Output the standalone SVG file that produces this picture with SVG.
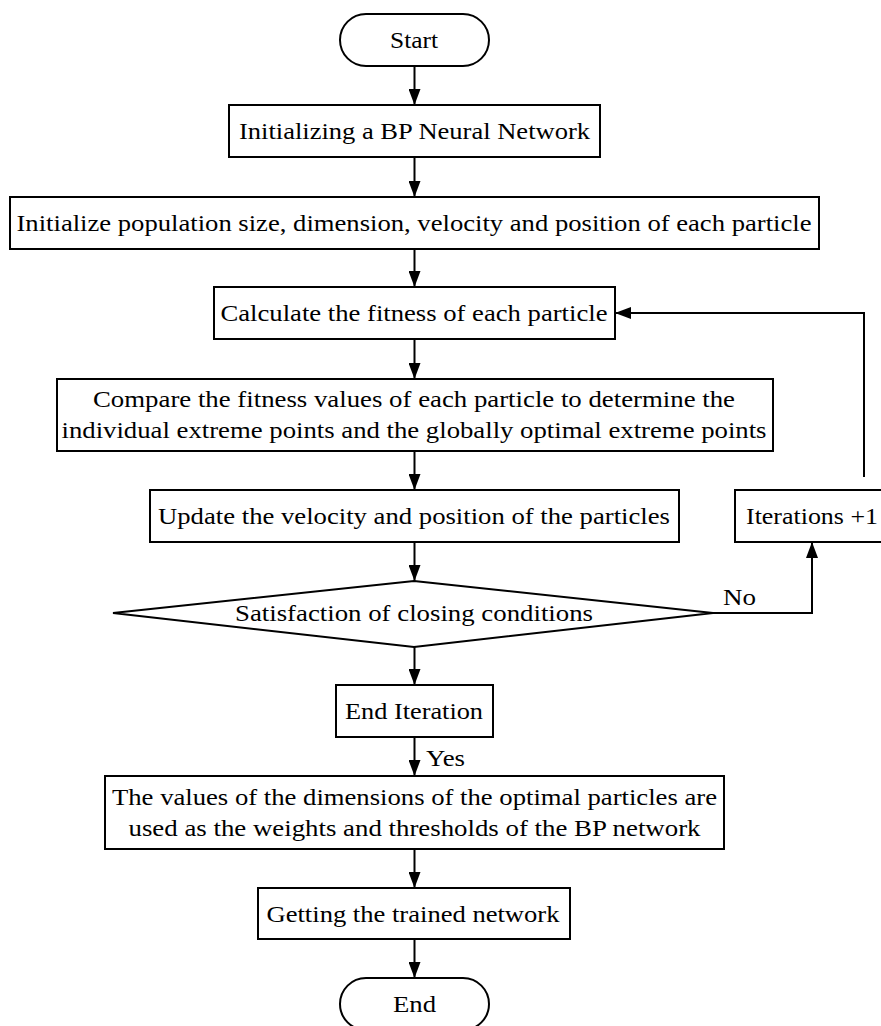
<svg xmlns="http://www.w3.org/2000/svg" width="881" height="1026" viewBox="0 0 881 1026">
<defs>
<marker id="arr" viewBox="0 0 16 12" refX="16" refY="6" markerWidth="16" markerHeight="12" markerUnits="userSpaceOnUse" orient="auto">
<path d="M0,0 L16,6 L0,12 Z" fill="#000"/>
</marker>
<style>
.n{fill:#fff;stroke:#000;stroke-width:2}
.t{font-family:"Liberation Serif","Times New Roman",serif;font-size:24px;fill:#000;text-anchor:middle}
.l{font-family:"Liberation Serif","Times New Roman",serif;font-size:24px;fill:#000}
.c{fill:none;stroke:#000;stroke-width:2}
</style>
</defs>
<rect width="881" height="1026" fill="#fff"/>
<g id="connectors">
<line class="c" x1="414.5" y1="66" x2="414.5" y2="105" marker-end="url(#arr)"/>
<line class="c" x1="414.5" y1="157" x2="414.5" y2="197" marker-end="url(#arr)"/>
<line class="c" x1="414.5" y1="249" x2="414.5" y2="287" marker-end="url(#arr)"/>
<line class="c" x1="414.5" y1="339" x2="414.5" y2="379" marker-end="url(#arr)"/>
<line class="c" x1="414.5" y1="451" x2="414.5" y2="490" marker-end="url(#arr)"/>
<line class="c" x1="414.5" y1="542" x2="414.5" y2="581" marker-end="url(#arr)"/>
<line class="c" x1="414.5" y1="647" x2="414.5" y2="685" marker-end="url(#arr)"/>
<line class="c" x1="414.5" y1="737" x2="414.5" y2="776" marker-end="url(#arr)"/>
<line class="c" x1="414.5" y1="849" x2="414.5" y2="888" marker-end="url(#arr)"/>
<line class="c" x1="414.5" y1="939" x2="414.5" y2="978" marker-end="url(#arr)"/>
<polyline class="c" points="713,613 812,613 812,542" marker-end="url(#arr)"/>
<polyline class="c" points="864,477 864,313 615,313" marker-end="url(#arr)"/>
<text class="l" x="723" y="605" textLength="33" lengthAdjust="spacingAndGlyphs">No</text>
<text class="l" x="426" y="766" textLength="39" lengthAdjust="spacingAndGlyphs">Yes</text>
</g>
<g id="start">
<rect class="n" x="340" y="14" width="149" height="52" rx="26" ry="26"/>
<text class="t" x="414" y="48" textLength="48" lengthAdjust="spacingAndGlyphs">Start</text>
</g>
<g id="init-bp">
<rect class="n" x="229" y="105" width="371" height="52"/>
<text class="t" x="414.5" y="139" textLength="351" lengthAdjust="spacingAndGlyphs">Initializing a BP Neural Network</text>
</g>
<g id="init-pop">
<rect class="n" x="10" y="197" width="809" height="52"/>
<text class="t" x="414" y="231" textLength="795" lengthAdjust="spacingAndGlyphs">Initialize population size, dimension, velocity and position of each particle</text>
</g>
<g id="calc">
<rect class="n" x="214" y="287" width="401" height="52"/>
<text class="t" x="414" y="321" textLength="387" lengthAdjust="spacingAndGlyphs">Calculate the fitness of each particle</text>
</g>
<g id="compare">
<rect class="n" x="57" y="379" width="716" height="72"/>
<text class="t" x="414" y="407" textLength="642" lengthAdjust="spacingAndGlyphs">Compare the fitness values of each particle to determine the</text>
<text class="t" x="414" y="438" textLength="705" lengthAdjust="spacingAndGlyphs">individual extreme points and the globally optimal extreme points</text>
</g>
<g id="update">
<rect class="n" x="150" y="490" width="529" height="52"/>
<text class="t" x="414" y="524" textLength="512" lengthAdjust="spacingAndGlyphs">Update the velocity and position of the particles</text>
</g>
<g id="iterations">
<rect class="n" x="735" y="490" width="154" height="52"/>
<text class="t" x="812" y="524" textLength="132" lengthAdjust="spacingAndGlyphs">Iterations +1</text>
</g>
<g id="decision">
<polygon class="n" points="414,581 713,613 414,647 113,613"/>
<text class="t" x="414" y="621" textLength="358" lengthAdjust="spacingAndGlyphs">Satisfaction of closing conditions</text>
</g>
<g id="end-iteration">
<rect class="n" x="336" y="685" width="157" height="52"/>
<text class="t" x="414" y="719" textLength="138" lengthAdjust="spacingAndGlyphs">End Iteration</text>
</g>
<g id="values">
<rect class="n" x="105" y="776" width="619" height="73"/>
<text class="t" x="414.5" y="805" textLength="605" lengthAdjust="spacingAndGlyphs">The values of the dimensions of the optimal particles are</text>
<text class="t" x="414.5" y="836" textLength="572" lengthAdjust="spacingAndGlyphs">used as the weights and thresholds of the BP network</text>
</g>
<g id="getting">
<rect class="n" x="258" y="888" width="312" height="51"/>
<text class="t" x="413" y="922" textLength="293" lengthAdjust="spacingAndGlyphs">Getting the trained network</text>
</g>
<g id="end">
<rect class="n" x="340" y="978" width="149" height="52" rx="26" ry="26"/>
<text class="t" x="414.5" y="1012" textLength="43" lengthAdjust="spacingAndGlyphs">End</text>
</g>
</svg>
